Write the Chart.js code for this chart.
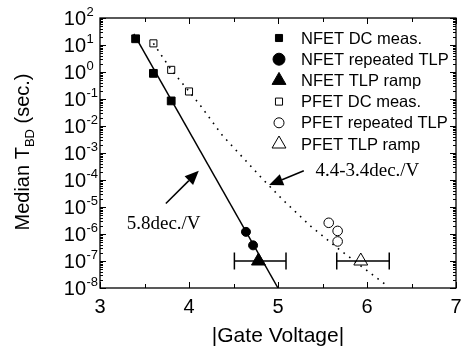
<!DOCTYPE html>
<html>
<head>
<meta charset="utf-8">
<script src="https://cdn.jsdelivr.net/npm/chart.js@4.4.1/dist/chart.umd.min.js"></script>
<style>
  body { margin: 0; background: #fff; }
  #wrap { width: 467px; height: 356px; }
</style>
</head>
<body>
<div id="wrap"><canvas id="tbdChart" width="467" height="356"></canvas></div>
<script>
// axis ticks
const xTickValues = [3, 4, 5, 6, 7];
const xTickLabels = ["3", "4", "5", "6", "7"];
const yTickExps = [-8, -7, -6, -5, -4, -3, -2, -1, 0, 1, 2];

// measured points (gate voltage V, median T_BD s)
const nfetDcV = [3.4, 3.6, 3.8];
const nfetDcT = [17, 0.89, 0.085];
const nfetRepV = [4.64, 4.72];
const nfetRepT = [1.2e-6, 3.8e-7];
const nfetRampV = [4.78];
const nfetRampT = [1e-7];
const nfetRampLo = [4.51];
const nfetRampHi = [5.09];
const pfetDcV = [3.6, 3.8, 4.0];
const pfetDcT = [11.5, 1.2, 0.19];
const pfetRepV = [5.57, 5.67, 5.67];
const pfetRepT = [2.6e-6, 1.3e-6, 5.3e-7];
const pfetRampV = [5.93];
const pfetRampT = [1e-7];
const pfetRampLo = [5.66];
const pfetRampHi = [6.25];

// fitted trend lines
const nfetFitV = [3.38, 5.0];
const nfetFitT = [26, 1e-8];
const pfetFitV = [3.6, 3.8, 4.0, 4.13, 4.37, 4.82, 5.05, 5.37, 5.7, 6.2];
const pfetFitT = [11.5, 1.2, 0.19, 0.056, 4.7e-3, 1.15e-4, 1.9e-5, 1.9e-6, 2.5e-7, 1.4e-8];

// annotations: text anchor and arrow (from -> to), in data units
const notes = [
  { text: "5.8dec./V", x: 3.3, y: 2.3e-6, ax: 3.74, ay: 1.35e-5, bx: 4.11, by: 2.2e-4 },
  { text: "4.4-3.4dec./V", x: 5.42, y: 2.1e-4, ax: 5.29, ay: 2.2e-4, bx: 4.90, by: 6.5e-5 }
];

const pts = (xs, ys) => xs.map((v, i) => ({ x: v, y: ys[i] }));

const sansFont = '"Liberation Sans", Arial, sans-serif';
const serifFont = '"Liberation Serif", "Times New Roman", serif';

function marker(ctx, style, x, y, r, filled) {
  ctx.save();
  ctx.beginPath();
  if (style === "rect") {
    const s = r * Math.SQRT1_2;
    ctx.rect(x - s, y - s, 2 * s, 2 * s);
  } else if (style === "circle") {
    ctx.arc(x, y, r, 0, Math.PI * 2);
  } else {
    ctx.moveTo(x, y - r);
    ctx.lineTo(x + r * Math.sin(Math.PI / 3), y + r * 0.5);
    ctx.lineTo(x - r * Math.sin(Math.PI / 3), y + r * 0.5);
    ctx.closePath();
  }
  ctx.fillStyle = filled ? "#000" : "#fff";
  ctx.fill();
  ctx.lineWidth = 1;
  ctx.strokeStyle = "#000";
  ctx.stroke();
  ctx.restore();
}

const legendItems = [
  { label: "NFET DC meas.", style: "rect", r: 5, filled: true },
  { label: "NFET repeated TLP", style: "circle", r: 6, filled: true },
  { label: "NFET TLP ramp", style: "triangle", r: 8, filled: true },
  { label: "PFET DC meas.", style: "rect", r: 5, filled: false },
  { label: "PFET repeated TLP", style: "circle", r: 5, filled: false },
  { label: "PFET TLP ramp", style: "triangle", r: 8, filled: false }
];

const decorations = {
  id: "decorations",
  beforeDatasetsDraw(chart) {
    const ctx = chart.ctx, xs = chart.scales.x, ys = chart.scales.y;
    ctx.save();
    ctx.strokeStyle = "#000";
    ctx.lineWidth = 1.5;
    const bars = [[nfetRampLo, nfetRampHi, nfetRampT], [pfetRampLo, pfetRampHi, pfetRampT]];
    bars.forEach(([lo, hi, t]) => {
      lo.forEach((l, i) => {
        const x1 = xs.getPixelForValue(l), x2 = xs.getPixelForValue(hi[i]);
        const y = ys.getPixelForValue(t[i]);
        ctx.beginPath();
        ctx.moveTo(x1, y); ctx.lineTo(x2, y);
        ctx.moveTo(x1, y - 8.5); ctx.lineTo(x1, y + 8.5);
        ctx.moveTo(x2, y - 8.5); ctx.lineTo(x2, y + 8.5);
        ctx.stroke();
      });
    });
    ctx.restore();
  },
  afterDraw(chart) {
    const ctx = chart.ctx, a = chart.chartArea, xs = chart.scales.x, ys = chart.scales.y;
    ctx.save();
    ctx.strokeStyle = "#000";
    ctx.fillStyle = "#000";
    ctx.lineWidth = 1.3;
    ctx.strokeRect(a.left, a.top, a.right - a.left, a.bottom - a.top);

    // x ticks, inward on bottom and top
    ctx.lineWidth = 1;
    ctx.beginPath();
    for (let v = 3; v <= 7; v += 0.5) {
      const px = Math.round(xs.getPixelForValue(v)) + 0.5;
      const len = Number.isInteger(v) ? 6 : 4;
      ctx.moveTo(px, a.bottom); ctx.lineTo(px, a.bottom - len);
      ctx.moveTo(px, a.top); ctx.lineTo(px, a.top + len);
    }
    // y ticks, log minors
    yTickExps.forEach(e => {
      const py = Math.round(ys.getPixelForValue(Math.pow(10, e))) + 0.5;
      ctx.moveTo(a.left, py); ctx.lineTo(a.left + 6, py);
      ctx.moveTo(a.right, py); ctx.lineTo(a.right - 6, py);
      if (e < 2) {
        for (let m = 2; m <= 9; m++) {
          const my = Math.round(ys.getPixelForValue(m * Math.pow(10, e))) + 0.5;
          ctx.moveTo(a.left, my); ctx.lineTo(a.left + 3, my);
          ctx.moveTo(a.right, my); ctx.lineTo(a.right - 3, my);
        }
      }
    });
    ctx.stroke();

    // x tick labels
    ctx.font = "20px " + sansFont;
    ctx.textAlign = "center";
    ctx.textBaseline = "middle";
    xTickValues.forEach((v, i) => {
      ctx.fillText(xTickLabels[i], xs.getPixelForValue(v), a.bottom + 19);
    });

    // y tick labels 10^n
    yTickExps.forEach(e => {
      const py = ys.getPixelForValue(Math.pow(10, e));
      const xr = a.left - 14;
      ctx.font = "20px " + sansFont;
      ctx.textAlign = "right";
      ctx.textBaseline = "middle";
      ctx.fillText("10", xr, py + 1);
      ctx.font = "13px " + sansFont;
      ctx.textAlign = "left";
      ctx.textBaseline = "alphabetic";
      ctx.fillText(String(e), xr + 0.5, py - 2);
    });

    // axis titles
    ctx.font = "21px " + sansFont;
    ctx.textAlign = "center";
    ctx.textBaseline = "middle";
    ctx.fillText("|Gate Voltage|", (a.left + a.right) / 2, 336);

    ctx.save();
    ctx.translate(22, 152);
    ctx.rotate(-Math.PI / 2);
    const partA = "Median T", partB = "BD", partC = " (sec.)";
    ctx.font = "20px " + sansFont;
    const wA = ctx.measureText(partA).width, wC = ctx.measureText(partC).width;
    ctx.font = "13px " + sansFont;
    const wB = ctx.measureText(partB).width;
    const x0 = -(wA + wB + wC) / 2;
    ctx.textAlign = "left";
    ctx.textBaseline = "alphabetic";
    ctx.font = "20px " + sansFont;
    ctx.fillText(partA, x0, 7);
    ctx.font = "13px " + sansFont;
    ctx.fillText(partB, x0 + wA, 12);
    ctx.font = "20px " + sansFont;
    ctx.fillText(partC, x0 + wA + wB, 7);
    ctx.restore();

    // annotations with arrows
    notes.forEach(n => {
      ctx.font = "19px " + serifFont;
      ctx.textAlign = "left";
      ctx.textBaseline = "middle";
      ctx.fillText(n.text, xs.getPixelForValue(n.x), ys.getPixelForValue(n.y));
      const x1 = xs.getPixelForValue(n.ax), y1 = ys.getPixelForValue(n.ay);
      const x2 = xs.getPixelForValue(n.bx), y2 = ys.getPixelForValue(n.by);
      const ang = Math.atan2(y2 - y1, x2 - x1);
      const hl = 14, hw = 6;
      ctx.lineWidth = 1.5;
      ctx.beginPath();
      ctx.moveTo(x1, y1);
      ctx.lineTo(x2 - hl * Math.cos(ang), y2 - hl * Math.sin(ang));
      ctx.stroke();
      ctx.beginPath();
      ctx.moveTo(x2, y2);
      ctx.lineTo(x2 - hl * Math.cos(ang) + hw * Math.sin(ang), y2 - hl * Math.sin(ang) - hw * Math.cos(ang));
      ctx.lineTo(x2 - hl * Math.cos(ang) - hw * Math.sin(ang), y2 - hl * Math.sin(ang) + hw * Math.cos(ang));
      ctx.closePath();
      ctx.fill();
    });

    // legend
    ctx.font = "16.5px " + sansFont;
    ctx.textAlign = "left";
    ctx.textBaseline = "middle";
    legendItems.forEach((it, i) => {
      const ly = a.top + 20 + i * 21.2;
      const lx = a.left + 179;
      marker(ctx, it.style, lx, ly, it.r, it.filled);
      ctx.fillStyle = "#000";
      ctx.fillText(it.label, lx + 22, ly + 1);
    });
    ctx.restore();
  }
};

new Chart(document.getElementById("tbdChart").getContext("2d"), {
  type: "scatter",
  data: {
    datasets: [
      { label: "NFET fit", data: pts(nfetFitV, nfetFitT), showLine: true, pointRadius: 0,
        borderColor: "#000", borderWidth: 1.5 },
      { label: "PFET fit", data: pts(pfetFitV, pfetFitT), showLine: true, pointRadius: 0,
        borderColor: "#000", borderWidth: 1.6, borderDash: [1.6, 5.5] },
      { label: "NFET DC meas.", data: pts(nfetDcV, nfetDcT), pointStyle: "rect", pointRadius: 5.5,
        backgroundColor: "#000", borderColor: "#000", borderWidth: 1 },
      { label: "NFET repeated TLP", data: pts(nfetRepV, nfetRepT), pointStyle: "circle", pointRadius: 4.5,
        backgroundColor: "#000", borderColor: "#000", borderWidth: 1 },
      { label: "NFET TLP ramp", data: pts(nfetRampV, nfetRampT), pointStyle: "triangle", pointRadius: 8,
        backgroundColor: "#000", borderColor: "#000", borderWidth: 1 },
      { label: "PFET DC meas.", data: pts(pfetDcV, pfetDcT), pointStyle: "rect", pointRadius: 5,
        backgroundColor: "#fff", borderColor: "#000", borderWidth: 1 },
      { label: "PFET repeated TLP", data: pts(pfetRepV, pfetRepT), pointStyle: "circle", pointRadius: 4.8,
        backgroundColor: "#fff", borderColor: "#000", borderWidth: 1 },
      { label: "PFET TLP ramp", data: pts(pfetRampV, pfetRampT), pointStyle: "triangle", pointRadius: 8,
        backgroundColor: "rgba(255,255,255,0)", borderColor: "#000", borderWidth: 1 }
    ]
  },
  options: {
    responsive: false,
    animation: false,
    layout: { padding: { left: 92, right: 11, top: 18, bottom: 60 } },
    plugins: { legend: { display: false }, tooltip: { enabled: false } },
    scales: {
      x: { type: "linear", min: 3, max: 7,
        ticks: { display: false }, grid: { display: false }, border: { display: false } },
      y: { type: "logarithmic", min: 1e-8, max: 100,
        ticks: { display: false }, grid: { display: false }, border: { display: false } }
    }
  },
  plugins: [decorations]
});
</script>
</body>
</html>
